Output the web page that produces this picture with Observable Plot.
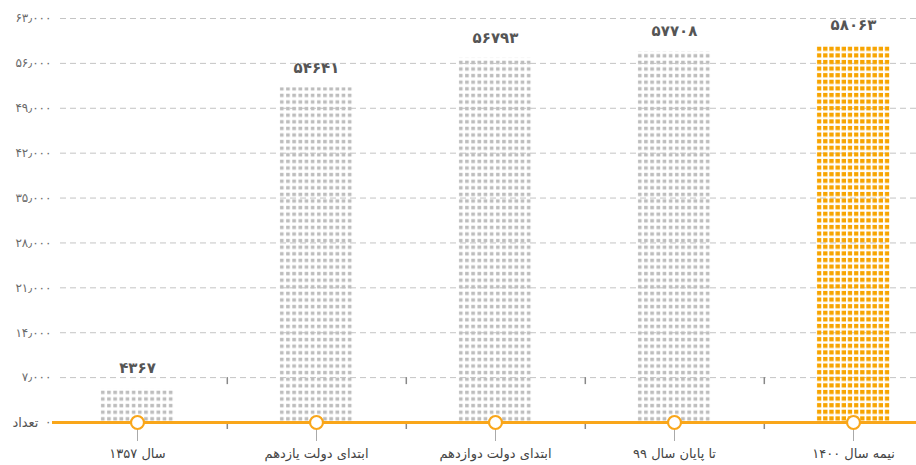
<!DOCTYPE html>
<html>
<head>
<meta charset="utf-8">
<script src="https://cdn.jsdelivr.net/npm/d3@7"></script>
<script src="https://cdn.jsdelivr.net/npm/@observablehq/plot@0.6"></script>
<style>
  html, body { margin: 0; padding: 0; background: #fff; }
</style>
</head>
<body>
<div id="chart"></div>
<script>
// ---- data ----
const categories = ["سال ۱۳۵۷", "ابتدای دولت یازدهم", "ابتدای دولت دوازدهم", "تا پایان سال ۹۹", "نیمه سال ۱۴۰۰"];
const barHeights = [5300, 52200, 56800, 57850, 58800];           // bar heights as drawn
const valueLabels = ["۴۳۶۷", "۵۴۶۴۱", "۵۶۷۹۳", "۵۷۷۰۸", "۵۸۰۶۳"]; // printed values
const highlighted = [false, false, false, false, true];
const yTicks = [0, 7000, 14000, 21000, 28000, 35000, 42000, 49000, 56000, 63000];
const yTickLabels = ["۰", "۷٫۰۰۰", "۱۴٫۰۰۰", "۲۱٫۰۰۰", "۲۸٫۰۰۰", "۳۵٫۰۰۰", "۴۲٫۰۰۰", "۴۹٫۰۰۰", "۵۶٫۰۰۰", "۶۳٫۰۰۰"];
const yTitle = "تعداد";

const ORANGE = "#f9a61a";
const table = categories.map((c, i) => ({cat: c, h: barHeights[i], label: valueLabels[i], hl: highlighted[i]}));

const chart = Plot.plot({
  width: 916,
  height: 465,
  marginLeft: 60,
  marginRight: 0,
  marginTop: 18,
  marginBottom: 43,
  style: {fontFamily: "'DejaVu Sans', sans-serif", background: "#fff", overflow: "visible"},
  x: {type: "band", domain: categories, paddingInner: 0.588, paddingOuter: 0.177, align: 0.597, label: null},
  y: {domain: [0, 63000], label: null},
  marks: [
    Plot.gridY(yTicks.slice(1), {stroke: "#c4c4c4", strokeOpacity: 1, strokeDasharray: "6,4"}),
    Plot.barY(table.filter(d => !d.hl), {x: "cat", y: "h", fill: "url(#pGray)"}),
    Plot.barY(table.filter(d => d.hl), {x: "cat", y: "h", fill: "url(#pOrange)"}),
    Plot.axisX({tickSize: 19, tickPadding: 7, stroke: "#aaa", fill: "#444", fontSize: 13, label: null}),
    Plot.ruleY([0], {stroke: ORANGE, strokeWidth: 3, insetLeft: -8}),
    Plot.ruleX(table.slice(0, 4), {x: "cat", y1: () => 7000, y2: () => 7000, insetBottom: -7, dx: 89.8, stroke: "#888", strokeWidth: 1.5}),
    Plot.ruleX(table.slice(0, 4), {x: "cat", y1: () => 0, y2: () => 0, insetTop: 2, insetBottom: -7, dx: 89.8, stroke: "#888", strokeWidth: 1.5}),
    Plot.dot(table, {x: "cat", y: () => 0, r: 6.5, fill: "#fff", stroke: ORANGE, strokeWidth: 2.2}),
    Plot.text(table, {x: "cat", y: "h", text: "label", dy: -20, fontSize: 15, fontWeight: "bold", fill: "#555"}),
    Plot.axisY(yTicks, {tickSize: 0, tickPadding: 9, fontSize: 12, fill: "#6a6a6a", label: null,
      tickFormat: d => yTickLabels[yTicks.indexOf(d)]}),
    Plot.text([yTitle], {frameAnchor: "left", y: () => 0, text: d => d, dx: -22, textAnchor: "end", fontSize: 13, fill: "#555"})
  ]
});

// patterns for the dotted bars, aligned to the band scale
const xs = chart.scale("x");
const ys = chart.scale("y");
const pw = xs.step / Math.round(xs.step / 6.2);
const px = xs.apply(categories[0]);
const py = ys.apply(0);
const svgNS = "http://www.w3.org/2000/svg";
const svgEl = chart.tagName.toLowerCase() === "svg" ? chart : chart.querySelector("svg");
const defs = document.createElementNS(svgNS, "defs");
function makePattern(id, color, w, h, ph) {
  const p = document.createElementNS(svgNS, "pattern");
  p.setAttribute("id", id);
  p.setAttribute("patternUnits", "userSpaceOnUse");
  p.setAttribute("x", px);
  p.setAttribute("y", py);
  p.setAttribute("width", pw);
  p.setAttribute("height", ph);
  const r = document.createElementNS(svgNS, "rect");
  r.setAttribute("x", 1);
  r.setAttribute("y", ph - h - 1.5);
  r.setAttribute("width", w);
  r.setAttribute("height", h);
  r.setAttribute("fill", color);
  p.appendChild(r);
  defs.appendChild(p);
}
makePattern("pGray", "#bdbdbd", 3.6, 3.4, 6.6);
makePattern("pOrange", "#f7a400", 4.3, 4.2, 6.6);
svgEl.insertBefore(defs, svgEl.firstChild);

document.getElementById("chart").appendChild(chart);
</script>
</body>
</html>
